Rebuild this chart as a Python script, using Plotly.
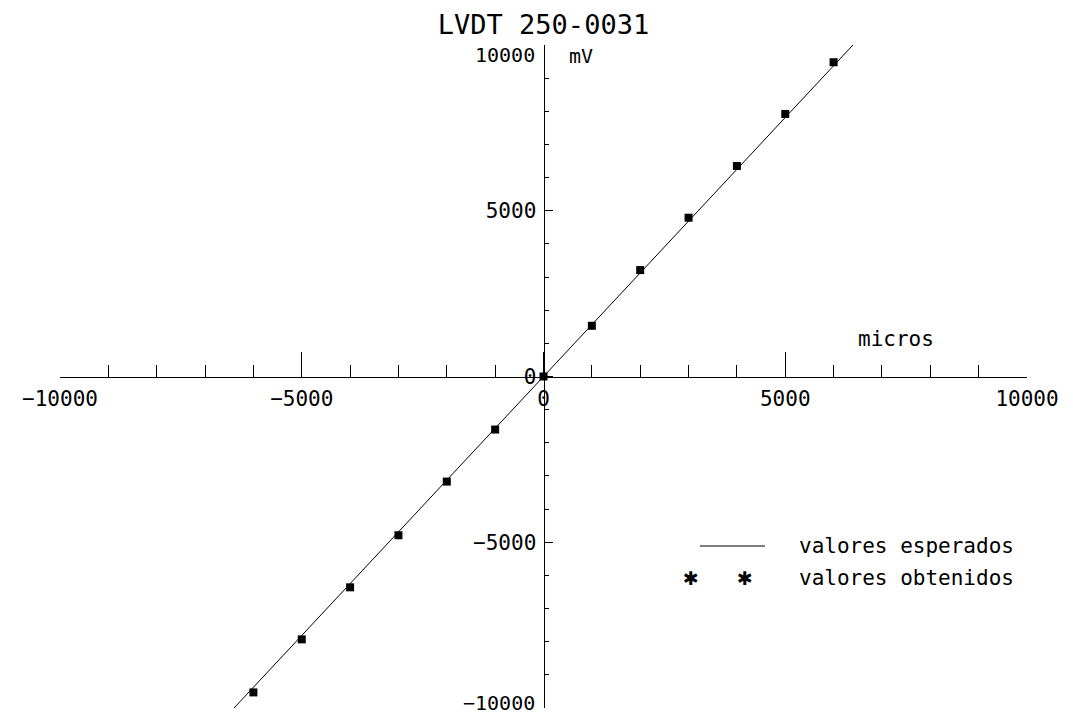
import plotly.graph_objects as go

# Data
title_text = "LVDT 250-0031"
expected_x = [-6400, 6400]
expected_y = [-10000, 10000]
obtained_x = [-6000, -5000, -4000, -3000, -2000, -1000, 0, 1000, 2000, 3000, 4000, 5000, 6000]
obtained_y = [-9530, -7930, -6360, -4790, -3170, -1600, 0, 1530, 3210, 4790, 6350, 7920, 9480]
x_tick_vals = [-10000, -5000, 0, 5000, 10000]
x_tick_text = ["\u221210000", "\u22125000", "0", "5000", "10000"]
y_tick_vals = [-10000, -5000, 0, 5000, 10000]
y_tick_text = ["", "\u22125000", "0", "5000", ""]
y_end_labels = {10000: "10000", -10000: "\u221210000"}
minor_vals = [v for v in range(-9000, 10000, 1000) if v % 5000 != 0]
legend_labels = ["valores esperados", "valores obtenidos"]

FONT = "DejaVu Sans Mono"

fig = go.Figure()
fig.add_trace(go.Scatter(x=expected_x, y=expected_y, mode="lines",
                         line=dict(color="black", width=1), showlegend=False, hoverinfo="skip"))
fig.add_trace(go.Scatter(x=obtained_x, y=obtained_y, mode="markers",
                         marker=dict(symbol="square", size=8, color="black"),
                         showlegend=False, hoverinfo="skip"))

axis_common = dict(
    showgrid=False, zeroline=False, showline=True, linecolor="black", linewidth=1,
    anchor="free", position=0.5, ticks="inside", tickcolor="black", tickwidth=1,
    tickmode="array",
    tickfont=dict(family=FONT, size=21, color="black"),
    range=[-10000, 10000], fixedrange=True,
)

fig.update_layout(
    width=1073, height=717,
    margin=dict(l=60, r=46, t=45, b=9),
    paper_bgcolor="white", plot_bgcolor="white",
    xaxis=dict(axis_common, tickvals=x_tick_vals, ticktext=x_tick_text, ticklen=25, ticklabelstandoff=3,
               minor=dict(tickvals=minor_vals, ticklen=12,
                          ticks="inside", tickcolor="black", tickwidth=1)),
    yaxis=dict(axis_common, tickvals=y_tick_vals, ticktext=y_tick_text, ticklen=8, ticklabelstandoff=3,
               minor=dict(tickvals=minor_vals, ticklen=4,
                          ticks="inside", tickcolor="black", tickwidth=1)),
    showlegend=False,
    title=dict(text=title_text, x=0.5, xref="paper", xanchor="center",
               y=1 - 25 / 717, yref="container", yanchor="middle",
               font=dict(family=FONT, size=27, color="black")),
)

# end labels of y axis (shifted inward as in the reference)
for val, lab in y_end_labels.items():
    fig.add_annotation(x=0, y=val, xref="x", yref="y", text=lab, showarrow=False,
                       xanchor="right", yanchor="middle", xshift=-7,
                       yshift=-10 if val > 0 else 5,
                       font=dict(family=FONT, size=20, color="black"))

# axis unit labels
fig.add_annotation(x=0.5, y=1 - 11 / 663, xref="paper", yref="paper", xshift=37,
                   xanchor="center", yanchor="middle",
                   text="mV", showarrow=False, font=dict(family=FONT, size=20, color="black"))
fig.add_annotation(x=(896 - 60) / 967, y=0.5, xref="paper", yref="paper", yshift=38,
                   xanchor="center", yanchor="middle",
                   text="micros", showarrow=False, font=dict(family=FONT, size=21, color="black"))

# manual legend (paper coords)
def px(xp):
    return (xp - 60) / 967

def py(yp):
    return 1 - (yp - 45) / 663

fig.add_shape(type="line", xref="paper", yref="paper", x0=px(700), x1=px(765), y0=py(546), y1=py(546),
              line=dict(color="black", width=1))
for xx in (691, 745):
    fig.add_annotation(x=px(xx), y=py(578), xref="paper", yref="paper", text="\u2731", showarrow=False,
                       xanchor="center", yanchor="middle",
                       font=dict(family="DejaVu Sans", size=19, color="black"))
for i, lab in enumerate(legend_labels):
    fig.add_annotation(x=px(797), y=py(546 + 32 * i), xref="paper", yref="paper", text=lab,
                       showarrow=False, xanchor="left", yanchor="middle",
                       font=dict(family=FONT, size=21, color="black"))

fig.write_html("out.html")
